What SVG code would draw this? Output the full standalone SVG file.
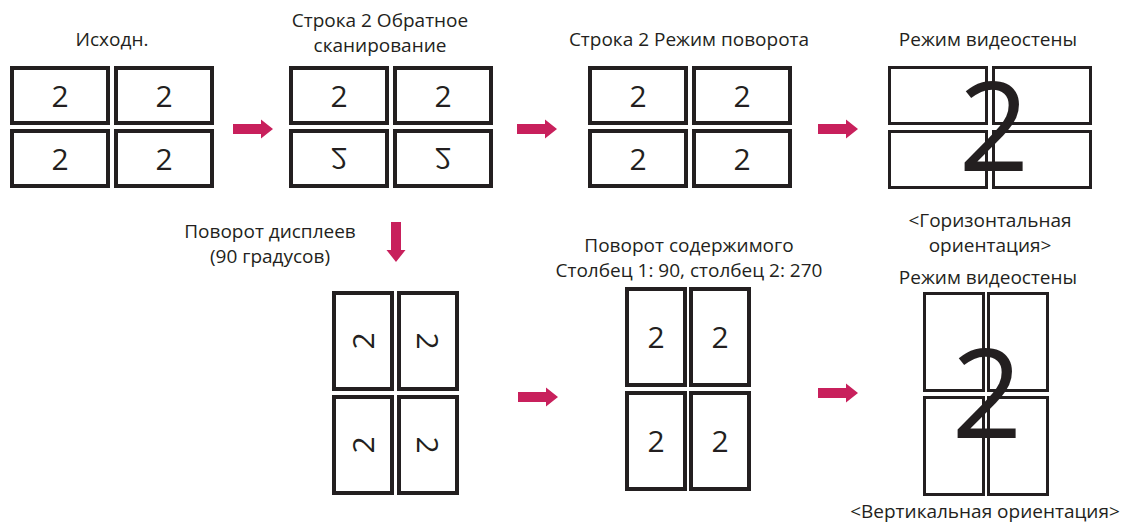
<svg xmlns="http://www.w3.org/2000/svg" width="1124" height="524" viewBox="0 0 1124 524">
<defs>
<style>
.lbl{font-family:"Open Sans","Noto Sans","Liberation Sans",sans-serif;font-size:19px;fill:#231f20;text-anchor:middle}
.s{fill:#fff;stroke:#231f20;stroke-width:4}
.t{fill:#fff;stroke:#231f20;stroke-width:3}
.d{font-family:"Open Sans","Noto Sans","Liberation Sans",sans-serif;font-size:30px;fill:#231f20;text-anchor:middle}
.big{font-family:"Open Sans","Noto Sans","Liberation Sans",sans-serif;font-size:124px;fill:#231f20;text-anchor:middle}
.arr{fill:#c8205c}
</style>
<path id="ar" d="M0,-5 H28 V-9.5 L40,0 L28,9.5 V5 H0 Z"/>
</defs>
<rect width="1124" height="524" fill="#fff"/>
<g id="labels">
<text class="lbl" x="112" y="46">Исходн.</text>
<text class="lbl" x="380" y="27">Строка 2 Обратное</text>
<text class="lbl" x="380" y="52">сканирование</text>
<text class="lbl" x="689" y="46">Строка 2 Режим поворота</text>
<text class="lbl" x="988" y="46">Режим видеостены</text>
<text class="lbl" x="990" y="227">&lt;Горизонтальная</text>
<text class="lbl" x="990" y="252">ориентация&gt;</text>
<text class="lbl" x="988" y="284">Режим видеостены</text>
<text class="lbl" x="270" y="238">Поворот дисплеев</text>
<text class="lbl" x="270" y="263">(90 градусов)</text>
<text class="lbl" x="689" y="252">Поворот содержимого</text>
<text class="lbl" x="689" y="277">Столбец 1: 90, столбец 2: 270</text>
<text class="lbl" x="985" y="518">&lt;Вертикальная ориентация&gt;</text>
</g>
<g id="panel-original">
<rect class="s" x="12" y="68" width="96" height="55"/>
<rect class="s" x="116" y="68" width="96" height="55"/>
<rect class="s" x="12" y="131" width="96" height="55"/>
<rect class="s" x="116" y="131" width="96" height="55"/>
<text class="d" x="60" y="107">2</text>
<text class="d" x="164" y="107">2</text>
<text class="d" x="60" y="170">2</text>
<text class="d" x="164" y="170">2</text>
</g>
<g id="panel-reverse">
<rect class="s" x="291" y="68" width="96" height="55"/>
<rect class="s" x="395" y="68" width="96" height="55"/>
<rect class="s" x="291" y="131" width="96" height="55"/>
<rect class="s" x="395" y="131" width="96" height="55"/>
<text class="d" x="339" y="107">2</text>
<text class="d" x="443" y="107">2</text>
<text class="d" transform="translate(339,158.5) scale(1,-1)" y="11">2</text>
<text class="d" transform="translate(443,158.5) scale(1,-1)" y="11">2</text>
</g>
<g id="panel-rotation-mode">
<rect class="s" x="590" y="68" width="96" height="55"/>
<rect class="s" x="694" y="68" width="96" height="55"/>
<rect class="s" x="590" y="131" width="96" height="55"/>
<rect class="s" x="694" y="131" width="96" height="55"/>
<text class="d" x="638" y="107">2</text>
<text class="d" x="742" y="107">2</text>
<text class="d" x="638" y="170">2</text>
<text class="d" x="742" y="170">2</text>
</g>
<g id="panel-videowall-h">
<rect class="t" x="889.5" y="67.5" width="97" height="56"/>
<rect class="t" x="993.5" y="67.5" width="97" height="56"/>
<rect class="t" x="889.5" y="131.5" width="97" height="56"/>
<rect class="t" x="993.5" y="131.5" width="97" height="56"/>
<text class="big" x="994" y="171">2</text>
</g>
<g id="panel-rotated-displays">
<rect class="s" x="334" y="293" width="58" height="96"/>
<rect class="s" x="399" y="293" width="58" height="96"/>
<rect class="s" x="334" y="397" width="58" height="96"/>
<rect class="s" x="399" y="397" width="58" height="96"/>
<text class="d" transform="translate(363,341) rotate(-90)" y="11">2</text>
<text class="d" transform="translate(428,341) rotate(90)" y="11">2</text>
<text class="d" transform="translate(363,445) rotate(-90)" y="11">2</text>
<text class="d" transform="translate(428,445) rotate(90)" y="11">2</text>
</g>
<g id="panel-content-rotation">
<rect class="s" x="627" y="289" width="58" height="96"/>
<rect class="s" x="691" y="289" width="58" height="96"/>
<rect class="s" x="627" y="393" width="58" height="96"/>
<rect class="s" x="691" y="393" width="58" height="96"/>
<text class="d" x="656" y="348">2</text>
<text class="d" x="720" y="348">2</text>
<text class="d" x="656" y="452">2</text>
<text class="d" x="720" y="452">2</text>
</g>
<g id="panel-videowall-v">
<rect class="t" x="924.5" y="293.5" width="59" height="97"/>
<rect class="t" x="988.5" y="293.5" width="59" height="97"/>
<rect class="t" x="924.5" y="397.5" width="59" height="97"/>
<rect class="t" x="988.5" y="397.5" width="59" height="97"/>
<text class="big" x="987" y="438">2</text>
</g>
<g id="connectors" class="arr">
<use href="#ar" transform="translate(233,129)"/>
<use href="#ar" transform="translate(517,129)"/>
<use href="#ar" transform="translate(818,129)"/>
<use href="#ar" transform="translate(396,222) rotate(90)"/>
<use href="#ar" transform="translate(518,397)"/>
<use href="#ar" transform="translate(818,393)"/>
</g>
</svg>
